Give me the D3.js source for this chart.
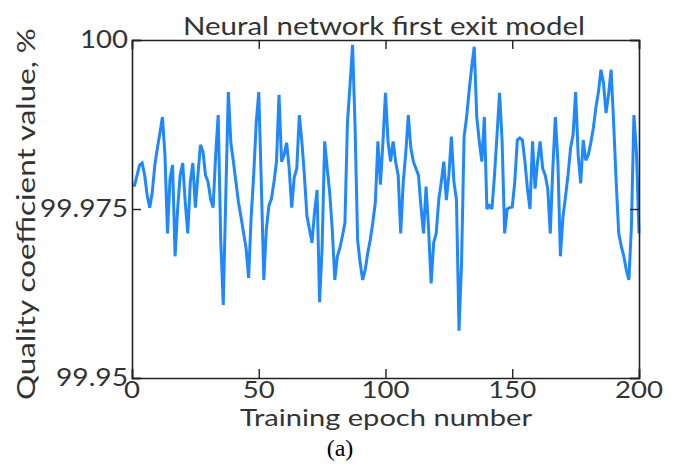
<!DOCTYPE html>
<html>
<head>
<meta charset="utf-8">
<script src="https://cdn.jsdelivr.net/npm/d3@7"></script>
<style>
  html, body { margin: 0; padding: 0; background: #fff; }
  svg { display: block; }
  text { font-family: Lato, "Open Sans", "DejaVu Sans", sans-serif; fill: #333; }
</style>
</head>
<body>
<svg id="chart" width="679" height="467"></svg>
<script>
// ---- data ----
const titleText = "Neural network first exit model";
const xLabelText = "Training epoch number";
const yLabelText = "Quality coefficient value, %";
const captionText = "(a)";
const xTicks = [0, 50, 100, 150, 200];
const yTicks = [99.95, 99.975, 100];
const yTickLabels = ["99.95", "99.975", "100"];
const epochs = d3.range(0, 201);
const quality = [
  99.9785, 99.9785, 99.9800, 99.9815, 99.9818, 99.9800, 99.9770, 99.9752, 99.9775, 99.9815,
  99.9840, 99.9862, 99.9886, 99.9830, 99.9714, 99.9795, 99.9815, 99.9680, 99.9750, 99.9800,
  99.9818, 99.9760, 99.9714, 99.9790, 99.9818, 99.9752, 99.9800, 99.9845, 99.9835, 99.9800,
  99.9790, 99.9765, 99.9752, 99.9830, 99.9889, 99.9704, 99.9608, 99.9770, 99.9923, 99.9848,
  99.9820, 99.9790, 99.9760, 99.9738, 99.9715, 99.9692, 99.9648, 99.9738, 99.9800, 99.9877,
  99.9923, 99.9790, 99.9645, 99.9720, 99.9755, 99.9765, 99.9790, 99.9820, 99.9919, 99.9820,
  99.9830, 99.9848, 99.9810, 99.9752, 99.9797, 99.9810, 99.9889, 99.9850, 99.9800, 99.9740,
  99.9720, 99.9700, 99.9745, 99.9778, 99.9612, 99.9694, 99.9850, 99.9810, 99.9774, 99.9720,
  99.9645, 99.9680, 99.9692, 99.9710, 99.9730, 99.9879, 99.9933, 99.9993, 99.9871, 99.9704,
  99.9670, 99.9645, 99.9660, 99.9685, 99.9705, 99.9730, 99.9760, 99.9850, 99.9786, 99.9850,
  99.9922, 99.9850, 99.9820, 99.9850, 99.9820, 99.9800, 99.9714, 99.9790, 99.9833, 99.9889,
  99.9840, 99.9820, 99.9810, 99.9800, 99.9753, 99.9714, 99.9783, 99.9720, 99.9640, 99.9700,
  99.9714, 99.9763, 99.9790, 99.9820, 99.9763, 99.9800, 99.9857, 99.9790, 99.9763, 99.9570,
  99.9670, 99.9857, 99.9886, 99.9925, 99.9960, 99.9990, 99.9886, 99.9850, 99.9820, 99.9886,
  99.9750, 99.9755, 99.9750, 99.9800, 99.9860, 99.9922, 99.9850, 99.9714, 99.9750, 99.9752,
  99.9753, 99.9790, 99.9852, 99.9855, 99.9852, 99.9820, 99.9780, 99.9750, 99.9850, 99.9780,
  99.9820, 99.9850, 99.9810, 99.9800, 99.9780, 99.9714, 99.9810, 99.9886, 99.9820, 99.9680,
  99.9738, 99.9768, 99.9800, 99.9840, 99.9860, 99.9923, 99.9830, 99.9788, 99.9852, 99.9822,
  99.9830, 99.9848, 99.9870, 99.9900, 99.9923, 99.9956, 99.9936, 99.9892, 99.9920, 99.9956,
  99.9877, 99.9790, 99.9714, 99.9695, 99.9680, 99.9660, 99.9645, 99.9723, 99.9889, 99.9833,
  99.9714
];

// ---- layout ----
const plot = { left: 132, right: 639, top: 40, bottom: 378 };
const svg = d3.select("#chart");

const x = d3.scaleLinear().domain([0, 200]).range([plot.left, plot.right]);
const y = d3.scaleLinear().domain([99.95, 100]).range([plot.bottom, plot.top]);

// width helper for stretched digit labels
const labelWidth = s => s.split("").reduce((w, c) => w + (c === "." ? 8 : 16), 0);

// data line
const line = d3.line().x((d, i) => x(epochs[i])).y(d => y(d));
svg.append("path")
  .datum(quality)
  .attr("d", line)
  .attr("fill", "none")
  .attr("stroke", "#1f88ff")
  .attr("stroke-width", 3)
  .attr("stroke-linejoin", "miter")
  .attr("stroke-miterlimit", 2);

// frame axes with inward ticks
const tickLen = 9;
const axBottom = d3.axisBottom(x).tickValues(xTicks).tickSize(-tickLen).tickFormat("");
const axTop = d3.axisTop(x).tickValues(xTicks).tickSize(-tickLen).tickFormat("");
const axLeft = d3.axisLeft(y).tickValues(yTicks).tickSize(-tickLen).tickFormat("");
const axRight = d3.axisRight(y).tickValues(yTicks).tickSize(-tickLen).tickFormat("");

const axes = [
  [axBottom, `translate(0,${plot.bottom})`],
  [axTop, `translate(0,${plot.top})`],
  [axLeft, `translate(${plot.left},0)`],
  [axRight, `translate(${plot.right},0)`]
];
axes.forEach(([ax, tr]) => {
  const g = svg.append("g").attr("transform", tr).call(ax);
  g.select(".domain").attr("stroke", "#222").attr("stroke-width", 1.6);
  g.selectAll(".tick line").attr("stroke", "#222").attr("stroke-width", 1.4);
});

// tick labels
svg.append("g").selectAll("text")
  .data(xTicks)
  .join("text")
  .attr("x", d => x(d))
  .attr("y", 398)
  .attr("text-anchor", "middle")
  .attr("font-size", 24)
  .attr("textLength", d => labelWidth(String(d)))
  .attr("lengthAdjust", "spacingAndGlyphs")
  .text(d => d);

svg.append("g").selectAll("text")
  .data(yTicks)
  .join("text")
  .attr("x", 128)
  .attr("y", d => y(d) + 8)
  .attr("text-anchor", "end")
  .attr("font-size", 25)
  .attr("textLength", (d, i) => labelWidth(yTickLabels[i]))
  .attr("lengthAdjust", "spacingAndGlyphs")
  .text((d, i) => yTickLabels[i]);

// title
svg.append("text")
  .attr("x", 384)
  .attr("y", 35)
  .attr("text-anchor", "middle")
  .attr("font-size", 25)
  .attr("textLength", 402)
  .attr("lengthAdjust", "spacingAndGlyphs")
  .text(titleText);

// x label
svg.append("text")
  .attr("x", 386)
  .attr("y", 426)
  .attr("text-anchor", "middle")
  .attr("font-size", 24)
  .attr("textLength", 292)
  .attr("lengthAdjust", "spacingAndGlyphs")
  .text(xLabelText);

// y label
svg.append("text")
  .attr("transform", "translate(35,214) rotate(-90)")
  .attr("text-anchor", "middle")
  .attr("font-size", 25)
  .attr("textLength", 372)
  .attr("lengthAdjust", "spacingAndGlyphs")
  .text(yLabelText);

// caption
svg.append("text")
  .attr("x", 340)
  .attr("y", 456)
  .attr("text-anchor", "middle")
  .attr("font-size", 24)
  .style("font-family", "'Liberation Serif', 'Times New Roman', serif")
  .style("fill", "#000")
  .text(captionText);
</script>
</body>
</html>
